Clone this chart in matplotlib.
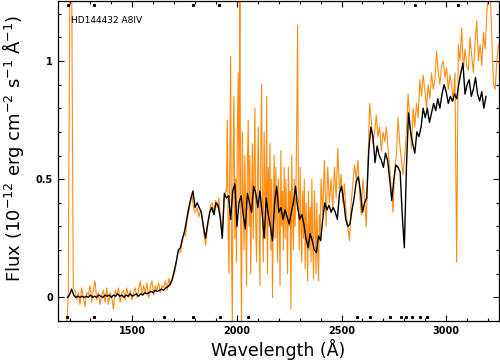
import matplotlib
matplotlib.use("Agg")
import matplotlib.pyplot as plt
import numpy as np
from matplotlib.ticker import MultipleLocator

# high-resolution spectrum (orange)
# part 1: 1186-1946 A, 8 A steps
hires1_start, hires1_step = 1186, 8
hires1_flux = [
    -0.12, 0.00, 1.40, 1.40, 0.04, 0.03, -0.01, 0.02, -0.03, 0.04,
    0.00, -0.04, 0.02, 0.01, 0.05, -0.02, 0.03, 0.07, -0.01, 0.02,
    -0.03, 0.01, 0.03, -0.02, 0.04, -0.03, 0.02, 0.00, -0.05, 0.03,
    0.01, 0.04, -0.02, 0.02, 0.03, -0.01, 0.04, 0.00, 0.03, -0.01,
    0.02, 0.04, 0.00, 0.03, 0.07, 0.01, 0.05, 0.02, 0.06, 0.00,
    0.04, 0.07, 0.01, 0.05, 0.03, 0.06, 0.02, 0.05, 0.04, 0.07,
    0.03, 0.08, 0.05, 0.07, 0.09, 0.12, 0.17, 0.20, 0.19, 0.23,
    0.27, 0.26, 0.33, 0.36, 0.40, 0.43, 0.37, 0.36, 0.38, 0.34,
    0.37, 0.33, 0.27, 0.22, 0.29, 0.33, 0.39, 0.40, 0.36, 0.41,
    0.38, 0.42, 0.33, 0.26, 0.42, 0.45,
]
# part 2: noisy 1950-2398 A, 4 A steps
hires2_start, hires2_step = 1950, 4
hires2_flux = [
    0.45, 0.75, 0.30, 0.10, 0.55, 1.02, 0.20, -0.10, 0.60, 0.85,
    0.25, 0.50, 0.15, 0.70, 0.95, 0.40, 1.30, 0.30, -0.12, 0.70,
    0.45, 0.20, 0.60, 0.35, 0.05, 0.55, 0.75, 0.30, 0.60, 0.10,
    0.40, 0.65, 0.25, 0.55, 0.80, 0.30, 0.15, 0.50, 0.72, 0.35,
    0.05, 0.60, 0.90, 0.40, 0.15, 0.70, 0.45, 0.25, 0.85, 0.10,
    0.55, 0.30, 0.65, 0.20, 0.50, 0.00, 0.40, 0.60, 0.25, 0.55,
    0.35, 0.15, 0.50, 0.40, 0.05, 0.62, 0.30, 0.45, 0.20, 0.55,
    0.25, 0.50, 0.35, 0.10, 0.55, 0.30, 0.45, -0.05, 0.60, 0.35,
    0.20, 0.50, 0.30, 0.45, 0.75, 1.15, 0.35, 0.20, 0.55, 0.30,
    0.15, 0.45, 0.25, 0.50, 0.12, 0.40, 0.30, 0.07, 0.45, 0.20,
    0.38, 0.15, 0.50, 0.25, 0.08, 0.45, 0.30, 0.10, 0.40, 0.20,
    0.07, 0.35, 0.25,
]
# part 3: 2402-3250 A, 8 A steps
hires3_start, hires3_step = 2402, 8
hires3_flux = [
    0.50, 0.35, 0.58, 0.30, 0.55, 0.40, 0.50, 0.38,
    0.55, 0.42, 0.63, 0.45, 0.52, 0.40, 0.48, 0.35, 0.30, 0.24,
    0.40, 0.48, 0.56, 0.50, 0.58, 0.45, 0.35, 0.50, 0.42, 0.30,
    0.55, 0.82, 0.75, 0.65, 0.70, 0.77, 0.68, 0.72, 0.62, 0.70,
    0.66, 0.72, 0.63, 0.55, 0.45, 0.36, 0.55, 0.60, 0.76, 0.65,
    0.58, 0.52, 0.60, 0.70, 0.86, 0.75, 0.63, 0.80, 0.72, 0.82,
    0.76, 0.92, 0.85, 0.94, 0.88, 0.80, 0.90, 0.84, 0.95, 0.88,
    0.92, 1.04, 0.95, 0.90, 0.98, 1.00, 0.93, 0.97, 0.88, 0.94,
    0.90, 0.83, 0.95, 0.15, 1.07, 1.00, 1.14, 0.96, 1.05, 0.98,
    0.96, 1.10, 1.02, 0.95, 1.08, 1.17, 1.00, 1.07, 0.98, 1.12,
    1.05, 1.20, 1.30, 1.30, 1.10, 0.90, 0.88, 1.00, 1.07,
]

# low-resolution spectrum (black), 10 A steps from 1190 A
lores_start, lores_step = 1190, 10
lores_flux = [
    0.00, 0.01, 0.035, 0.01, 0.00, 0.005, 0.00, 0.005, 0.00, 0.005,
    0.00, 0.01, 0.00, 0.005, 0.00, 0.01, 0.005, 0.00, 0.01, 0.005,
    0.01, 0.00, 0.01, 0.005, 0.015, 0.005, 0.01, 0.00, 0.01, 0.005,
    0.015, 0.005, 0.01, 0.015, 0.005, 0.015, 0.01, 0.02, 0.015, 0.02,
    0.025, 0.02, 0.03, 0.025, 0.03, 0.035, 0.03, 0.04, 0.045, 0.055,
    0.075, 0.11, 0.15, 0.20, 0.21, 0.25, 0.28, 0.33, 0.38, 0.42,
    0.45, 0.38, 0.40, 0.38, 0.36, 0.30, 0.25, 0.31, 0.36, 0.38,
    0.35, 0.40, 0.39, 0.34, 0.25, 0.44, 0.42, 0.43, 0.33, 0.45,
    0.48, 0.30, 0.40, 0.43, 0.35, 0.29, 0.44, 0.40, 0.36, 0.47,
    0.44, 0.38, 0.45, 0.36, 0.25, 0.42, 0.35, 0.30, 0.24, 0.40,
    0.47, 0.36, 0.38, 0.33, 0.37, 0.34, 0.31, 0.36, 0.40, 0.47,
    0.38, 0.33, 0.35, 0.31, 0.25, 0.21, 0.27, 0.24, 0.20, 0.19,
    0.26, 0.24, 0.33, 0.40, 0.37, 0.39, 0.36, 0.38, 0.36, 0.33,
    0.44, 0.47, 0.41, 0.33, 0.30, 0.31, 0.37, 0.42, 0.49, 0.51,
    0.45, 0.36, 0.40, 0.42, 0.62, 0.72, 0.68, 0.57, 0.64, 0.60,
    0.58, 0.55, 0.61, 0.58, 0.50, 0.41, 0.50, 0.56, 0.55, 0.53,
    0.35, 0.21, 0.55, 0.78, 0.70, 0.65, 0.61, 0.70, 0.68, 0.72,
    0.80, 0.76, 0.80, 0.74, 0.78, 0.82, 0.79, 0.84, 0.80, 0.86,
    0.90, 0.87, 0.82, 0.85, 0.83, 0.86, 0.84, 0.90, 0.95, 0.99,
    0.86, 0.90, 0.92, 0.85, 0.88, 0.93, 0.86, 0.83, 0.87, 0.80,
    0.85,
]

# flagged pixels shown as small marks along top and bottom
flags_top = [1195, 1319, 1790, 1914, 2850, 3055]
flags_bottom = [1190, 1319, 1652, 1790, 1919, 2052, 2576, 2638, 2733,
                2786, 2810, 2838, 2876, 2910]

star_label = "HD144432 A8IV"

hires_wave = np.concatenate([
    hires1_start + hires1_step * np.arange(len(hires1_flux)),
    hires2_start + hires2_step * np.arange(len(hires2_flux)),
    hires3_start + hires3_step * np.arange(len(hires3_flux)),
])
hires_flux = hires1_flux + hires2_flux + hires3_flux
lores_wave = lores_start + lores_step * np.arange(len(lores_flux))

fig = plt.figure(figsize=(5.0, 3.64), dpi=100)
ax = fig.add_axes([0.116, 0.118, 0.881, 0.879])

ax.plot(hires_wave, hires_flux, color="#ff8c10", lw=0.8)
ax.plot(lores_wave, lores_flux, color="black", lw=1.0)

trans = ax.get_xaxis_transform()
ax.plot(flags_top, [0.988] * len(flags_top), ls="none", marker="s",
        ms=1.2, color="black", transform=trans)
ax.plot(flags_bottom, [0.012] * len(flags_bottom), ls="none", marker="s",
        ms=1.2, color="black", transform=trans)

ax.set_xlim(1145, 3250)
ax.set_ylim(-0.10, 1.253)

ax.xaxis.set_major_locator(MultipleLocator(500))
ax.xaxis.set_minor_locator(MultipleLocator(100))
ax.yaxis.set_minor_locator(MultipleLocator(0.1))
ax.set_yticks([0, 0.5, 1])
ax.set_yticklabels(["0", "0.5", "1"])
ax.tick_params(which="both", direction="in", top=True, right=True,
               labelsize=7, width=0.8)
ax.tick_params(which="major", length=4)
ax.tick_params(which="minor", length=2.5)
for lab in ax.get_xticklabels() + ax.get_yticklabels():
    lab.set_fontweight("bold")
for s in ax.spines.values():
    s.set_linewidth(0.9)

ax.set_xlabel("Wavelength (Å)", fontsize=12.5, labelpad=2)
ax.set_ylabel(r"Flux (10$^{-12}$ erg cm$^{-2}$ s$^{-1}$ Å$^{-1}$)",
              fontsize=13)
ax.yaxis.set_label_coords(-0.073, 0.54)

ax.text(0.03, 0.94, star_label, transform=ax.transAxes, fontsize=6.5,
        va="center", ha="left")

fig.savefig("out.png", dpi=100)
